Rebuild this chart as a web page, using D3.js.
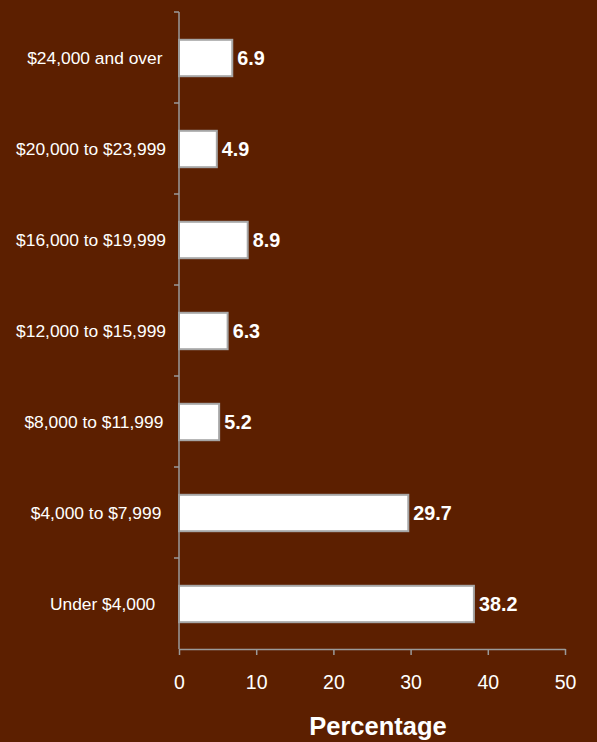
<!DOCTYPE html>
<html>
<head>
<meta charset="utf-8">
<script src="https://cdn.jsdelivr.net/npm/d3@7/dist/d3.min.js"></script>
<style>
  html, body { margin: 0; padding: 0; background: #5c1f00; }
  svg { display: block; font-family: "Liberation Sans", Arial, sans-serif; }
</style>
</head>
<body>
<svg id="chart" width="597" height="742"></svg>
<script>
// Income brackets, listed top to bottom
const categories = [
  "$24,000 and over",
  "$20,000 to $23,999",
  "$16,000 to $19,999",
  "$12,000 to $15,999",
  "$8,000 to $11,999",
  "$4,000 to $7,999",
  "Under $4,000"
];
const percentages = [6.9, 4.9, 8.9, 6.3, 5.2, 29.7, 38.2];
const xTicks = [0, 10, 20, 30, 40, 50];
const xTitle = "Percentage";

const svg = d3.select("#chart");
const width = 597, height = 742;
const margin = { top: 12, right: 32, bottom: 93, left: 179 };
const plotW = width - margin.left - margin.right;
const plotH = height - margin.top - margin.bottom;

const axisColor = "#9a9a9a";

svg.append("rect")
  .attr("width", width).attr("height", height)
  .attr("fill", "#5c1f00");

const g = svg.append("g")
  .attr("transform", `translate(${margin.left},${margin.top})`);

const x = d3.scaleLinear().domain([0, 50]).range([0, plotW]);
const y = d3.scaleBand().domain(categories).range([0, plotH])
  .paddingInner(0.6).paddingOuter(0.3);

// Bars
g.selectAll("rect.bar")
  .data(categories)
  .join("rect")
  .attr("class", "bar")
  .attr("x", x(0))
  .attr("y", d => y(d) + 0.5)
  .attr("width", (d, i) => x(percentages[i]) - x(0))
  .attr("height", y.bandwidth())
  .attr("fill", "#ffffff")
  .attr("stroke", "#a6a6a6")
  .attr("stroke-width", 2);

// Value labels
g.selectAll("text.value")
  .data(categories)
  .join("text")
  .attr("class", "value")
  .attr("x", (d, i) => x(percentages[i]) + 5)
  .attr("y", d => y(d) + y.bandwidth() / 2 + 0.5)
  .attr("dy", "0.36em")
  .attr("fill", "#ffffff")
  .attr("font-weight", "bold")
  .attr("font-size", "19.8px")
  .text((d, i) => percentages[i].toFixed(1));

// Y axis line with ticks at band boundaries
const step = y.step();
const boundaries = d3.range(categories.length + 1).map(i => i * step);
g.append("line")
  .attr("x1", 0).attr("x2", 0)
  .attr("y1", 0).attr("y2", plotH)
  .attr("stroke", axisColor).attr("stroke-width", 1.5);
g.selectAll("line.ytick")
  .data(boundaries.slice(0, -1))
  .join("line")
  .attr("class", "ytick")
  .attr("x1", -5).attr("x2", 0)
  .attr("y1", d => d).attr("y2", d => d)
  .attr("stroke", axisColor).attr("stroke-width", 1.5);

// Category labels
const catLabels = g.selectAll("text.cat")
  .data(categories)
  .join("text")
  .attr("class", "cat")
  .attr("y", d => y(d) + y.bandwidth() / 2 + 0.5)
  .attr("dy", "0.36em")
  .attr("fill", "#ffffff")
  .attr("font-size", "17.4px")
  .text(d => d);
catLabels.attr("x", function () {
  const w = this.getComputedTextLength();
  return -49 - 0.76 * w;
});

// X axis
const xAxis = g.append("g")
  .attr("transform", `translate(0,${plotH})`)
  .call(d3.axisBottom(x).tickValues(xTicks).tickSize(6).tickPadding(20).tickSizeOuter(0));
xAxis.select(".domain").attr("stroke", axisColor).attr("stroke-width", 1.5);
xAxis.selectAll(".tick line").attr("stroke", axisColor).attr("stroke-width", 1.5);
xAxis.selectAll(".tick text")
  .attr("fill", "#ffffff")
  .attr("font-size", "19.5px")
  .attr("font-family", "\"Liberation Sans\", Arial, sans-serif");

// X axis title
svg.append("text")
  .attr("x", 378)
  .attr("y", 735)
  .attr("text-anchor", "middle")
  .attr("fill", "#ffffff")
  .attr("font-weight", "bold")
  .attr("font-size", "25.5px")
  .text(xTitle);
</script>
</body>
</html>
